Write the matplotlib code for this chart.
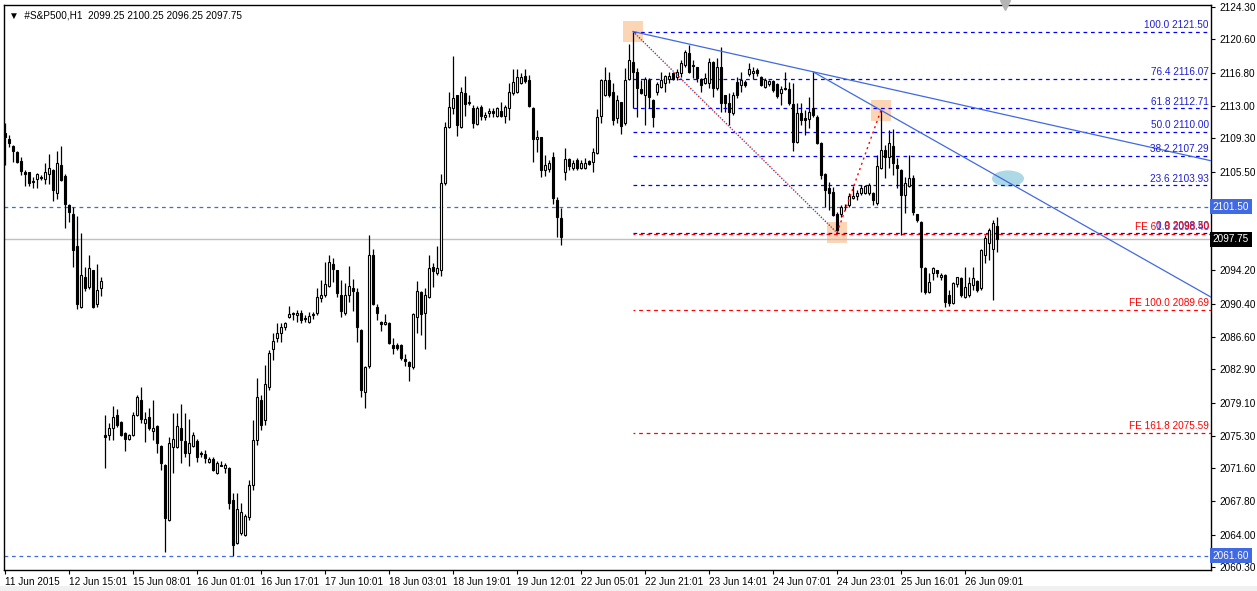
import numpy as np
import matplotlib
matplotlib.use("Agg")
import matplotlib.pyplot as plt
from matplotlib.patches import Rectangle, Ellipse
from matplotlib.transforms import blended_transform_factory

plt.rcParams["font.family"] = ["Liberation Sans", "DejaVu Sans"]

# --- hourly OHLC of #S&P500 (H1) ---
opens = [2109.9, 2109.2, 2108.4, 2107.7, 2106.7, 2105.4, 2105.4, 2104.4, 2104.6, 2104.8,
         2104.6, 2105.2, 2105.7, 2103.0, 2106.2, 2105.0, 2101.7, 2100.6, 2097.0, 2090.0,
         2093.4, 2092.3, 2094.2, 2090.4, 2092.2, 2075.4, 2075.4, 2076.2, 2077.7, 2076.9,
         2075.6, 2074.9, 2075.4, 2077.7, 2079.4, 2076.8, 2077.4, 2075.8, 2076.4, 2074.1,
         2072.0, 2065.7, 2074.0, 2074.0, 2076.2, 2074.7, 2073.3, 2074.1, 2074.7, 2073.3,
         2073.2, 2072.3, 2072.6, 2071.0, 2072.0, 2071.6, 2071.6, 2068.0, 2063.0, 2064.2,
         2064.0, 2066.0, 2069.7, 2074.8, 2079.4, 2077.1, 2080.9, 2085.2, 2086.5, 2087.0,
         2087.7, 2088.9, 2089.2, 2089.1, 2089.3, 2088.8, 2088.3, 2089.1, 2089.3, 2091.0,
         2091.4, 2092.4, 2094.9, 2094.2, 2091.4, 2089.3, 2091.4, 2092.2, 2091.7, 2087.4,
         2080.3, 2083.3, 2096.0, 2090.0, 2088.3, 2088.1, 2088.2, 2085.7, 2085.7, 2085.7,
         2084.1, 2083.7, 2083.2, 2088.9, 2091.7, 2089.3, 2091.2, 2094.6, 2093.9, 2094.2,
         2104.2, 2110.6, 2112.8, 2114.2, 2110.6, 2114.5, 2113.4, 2112.8, 2110.9, 2112.9,
         2111.7, 2112.2, 2112.4, 2111.8, 2112.4, 2111.8, 2112.8, 2114.5, 2114.6, 2115.6,
         2116.4, 2116.0, 2112.8, 2109.2, 2109.4, 2105.7, 2105.8, 2107.2, 2102.2, 2100.2,
         2105.4, 2106.9, 2105.9, 2106.8, 2105.9, 2105.9, 2106.7, 2106.6, 2107.6, 2111.8,
         2114.2, 2116.0, 2114.6, 2111.6, 2113.4, 2111.0, 2116.1, 2118.0, 2116.9, 2114.9,
         2114.2, 2116.0, 2113.7, 2114.6, 2115.2, 2115.6, 2116.1, 2116.8, 2116.3, 2116.8,
         2117.7, 2119.0, 2117.7, 2117.4, 2116.1, 2115.6, 2115.6, 2118.0, 2115.0, 2117.4,
         2114.2, 2113.3, 2112.2, 2115.7, 2115.4, 2115.7, 2116.6, 2116.8, 2117.1, 2116.3,
         2115.2, 2115.5, 2115.8, 2115.5, 2114.5, 2115.0, 2114.9, 2113.2, 2108.9, 2112.2,
         2111.6, 2111.5, 2112.8, 2111.7, 2108.8, 2105.2, 2103.6, 2103.2, 2100.6, 2100.6,
         2101.4, 2101.7, 2102.5, 2102.7, 2103.0, 2103.0, 2103.0, 2103.0, 2101.9, 2105.9,
         2108.0, 2107.2, 2108.4, 2106.2, 2105.7, 2102.8, 2103.8, 2104.8, 2100.6, 2099.7,
         2094.5, 2091.7, 2093.9, 2094.2, 2093.4, 2093.7, 2091.4, 2090.5, 2092.6, 2093.3,
         2091.2, 2091.4, 2092.5, 2093.0, 2092.2, 2096.0, 2097.3, 2096.6, 2099.25]
highs = [2111.0, 2109.7, 2108.5, 2107.8, 2107.2, 2105.7, 2105.5, 2104.9, 2105.3, 2105.1,
         2106.5, 2107.5, 2105.8, 2107.8, 2108.4, 2105.2, 2101.8, 2101.4, 2100.4, 2098.5,
         2094.6, 2096.0, 2094.3, 2094.9, 2093.4, 2077.7, 2076.8, 2078.7, 2078.4, 2077.0,
         2075.7, 2075.5, 2078.0, 2080.0, 2080.9, 2078.0, 2078.5, 2079.4, 2076.5, 2074.2,
         2072.1, 2075.2, 2077.9, 2077.9, 2078.9, 2077.9, 2077.2, 2075.7, 2074.9, 2073.6,
         2073.7, 2072.9, 2072.9, 2072.4, 2072.4, 2072.2, 2071.7, 2068.8, 2068.8, 2067.6,
         2066.4, 2070.2, 2077.1, 2081.9, 2080.0, 2083.4, 2085.1, 2087.0, 2088.2, 2088.2,
         2088.3, 2090.1, 2089.4, 2089.7, 2089.7, 2089.1, 2089.5, 2089.5, 2092.2, 2093.1,
         2095.2, 2096.0, 2095.6, 2094.3, 2093.1, 2092.8, 2094.7, 2093.2, 2092.2, 2087.5,
         2083.3, 2098.2, 2096.6, 2090.4, 2088.4, 2089.2, 2088.3, 2086.5, 2085.9, 2085.8,
         2084.6, 2083.8, 2089.3, 2093.0, 2091.8, 2092.2, 2096.0, 2095.0, 2097.0, 2105.2,
         2111.2, 2114.6, 2118.7, 2114.3, 2115.2, 2116.4, 2114.2, 2113.1, 2113.0, 2113.1,
         2112.3, 2112.8, 2112.8, 2112.9, 2113.4, 2113.1, 2115.6, 2117.2, 2117.2, 2116.8,
         2117.2, 2116.5, 2112.9, 2110.2, 2109.5, 2107.4, 2106.8, 2107.7, 2102.6, 2101.3,
         2108.2, 2107.0, 2106.8, 2107.0, 2106.8, 2107.0, 2106.8, 2108.2, 2112.6, 2116.1,
         2117.4, 2116.9, 2115.6, 2114.2, 2113.5, 2117.3, 2120.1, 2121.5, 2117.3, 2116.0,
         2116.3, 2116.2, 2113.8, 2115.7, 2116.9, 2116.5, 2116.9, 2116.9, 2117.2, 2118.2,
         2119.4, 2120.0, 2118.2, 2117.5, 2116.2, 2116.8, 2118.5, 2118.1, 2118.5, 2119.7,
         2114.3, 2114.5, 2114.6, 2116.3, 2116.9, 2116.0, 2117.9, 2117.4, 2117.3, 2116.4,
         2116.2, 2116.0, 2116.0, 2115.6, 2115.3, 2116.9, 2115.7, 2115.6, 2113.3, 2113.3,
         2112.5, 2114.0, 2116.9, 2112.0, 2108.9, 2105.3, 2104.3, 2103.7, 2100.9, 2101.7,
         2101.8, 2103.0, 2103.8, 2103.4, 2104.0, 2104.0, 2104.2, 2103.2, 2107.4, 2112.5,
         2108.5, 2110.2, 2110.4, 2107.0, 2105.8, 2104.9, 2107.4, 2105.1, 2100.7, 2099.8,
         2094.6, 2093.9, 2094.6, 2094.3, 2093.9, 2093.8, 2092.0, 2092.9, 2093.5, 2093.4,
         2094.6, 2093.4, 2094.6, 2093.1, 2096.6, 2098.2, 2099.0, 2100.0, 2100.25]
lows = [2106.2, 2108.3, 2106.6, 2106.5, 2105.1, 2103.8, 2103.8, 2103.6, 2103.6, 2104.5,
        2104.1, 2104.1, 2102.1, 2102.4, 2104.4, 2099.0, 2099.7, 2094.6, 2089.8, 2089.9,
        2091.8, 2092.1, 2089.9, 2090.0, 2091.3, 2071.6, 2074.8, 2074.8, 2076.3, 2075.3,
        2073.6, 2074.8, 2075.3, 2077.6, 2076.8, 2074.6, 2076.0, 2074.8, 2073.3, 2071.4,
        2062.0, 2065.6, 2071.0, 2073.9, 2072.2, 2072.9, 2071.8, 2074.0, 2072.3, 2072.9,
        2072.2, 2072.2, 2071.3, 2070.9, 2071.8, 2071.0, 2066.9, 2061.6, 2062.9, 2064.0,
        2063.9, 2065.7, 2069.1, 2074.2, 2076.0, 2076.5, 2080.5, 2084.0, 2086.0, 2086.0,
        2087.4, 2088.8, 2088.5, 2088.3, 2088.2, 2088.3, 2088.2, 2088.6, 2089.1, 2090.6,
        2091.2, 2092.3, 2092.9, 2091.2, 2088.9, 2089.1, 2090.6, 2089.6, 2086.0, 2079.7,
        2078.5, 2083.0, 2090.3, 2088.5, 2087.3, 2088.0, 2085.8, 2084.6, 2085.1, 2084.0,
        2083.3, 2081.6, 2082.9, 2087.0, 2086.8, 2085.2, 2091.1, 2092.3, 2093.7, 2093.6,
        2104.0, 2110.5, 2112.1, 2109.6, 2110.5, 2111.8, 2113.1, 2110.5, 2110.8, 2111.4,
        2111.4, 2111.7, 2111.7, 2111.7, 2111.7, 2111.0, 2111.4, 2114.2, 2114.5, 2115.5,
        2115.6, 2112.9, 2106.6, 2107.7, 2104.9, 2105.0, 2105.4, 2101.8, 2098.0, 2097.1,
        2104.5, 2105.7, 2105.7, 2105.7, 2105.8, 2105.8, 2106.2, 2105.5, 2107.5, 2111.0,
        2114.1, 2114.0, 2110.8, 2111.0, 2109.8, 2110.8, 2116.0, 2112.8, 2111.7, 2114.4,
        2110.8, 2112.8, 2110.6, 2114.2, 2115.0, 2114.6, 2115.6, 2116.0, 2116.0, 2116.3,
        2117.4, 2116.8, 2116.2, 2115.7, 2114.6, 2115.5, 2115.0, 2114.0, 2114.8, 2112.3,
        2112.3, 2110.8, 2112.0, 2113.9, 2114.6, 2115.2, 2116.4, 2116.1, 2116.4, 2115.3,
        2115.0, 2115.3, 2114.6, 2113.9, 2113.1, 2114.8, 2113.1, 2107.8, 2108.8, 2110.8,
        2109.7, 2110.5, 2111.7, 2108.7, 2104.6, 2101.4, 2101.1, 2100.4, 2098.5, 2100.3,
        2101.1, 2101.4, 2102.4, 2102.2, 2102.8, 2102.9, 2102.8, 2101.7, 2101.7, 2105.8,
        2104.8, 2105.9, 2105.1, 2103.6, 2098.2, 2100.8, 2103.7, 2100.5, 2099.7, 2091.7,
        2091.5, 2091.6, 2093.1, 2093.4, 2093.1, 2090.0, 2090.1, 2090.4, 2092.3, 2091.2,
        2091.1, 2091.2, 2092.0, 2091.7, 2092.0, 2095.0, 2095.4, 2090.8, 2096.25]
closes = [2109.4, 2108.8, 2107.8, 2106.6, 2105.6, 2105.2, 2104.2, 2104.3, 2105.2, 2104.9,
          2105.4, 2105.9, 2103.4, 2106.5, 2104.5, 2101.8, 2100.9, 2096.5, 2090.4, 2093.7,
          2092.2, 2094.5, 2090.0, 2092.0, 2093.0, 2075.2, 2076.2, 2077.4, 2076.5, 2075.4,
          2074.9, 2075.4, 2077.7, 2079.7, 2077.2, 2077.2, 2076.2, 2076.2, 2074.5, 2072.2,
          2065.9, 2074.5, 2074.9, 2076.4, 2074.8, 2073.3, 2074.5, 2075.4, 2072.9, 2073.2,
          2072.8, 2072.6, 2071.4, 2072.2, 2071.9, 2072.0, 2067.6, 2062.8, 2066.9, 2066.6,
          2066.1, 2069.7, 2074.8, 2079.7, 2076.5, 2081.2, 2084.8, 2086.1, 2087.0, 2087.7,
          2088.2, 2089.2, 2089.3, 2089.3, 2088.5, 2088.7, 2089.0, 2089.2, 2091.2, 2091.4,
          2092.6, 2095.2, 2094.4, 2091.6, 2089.6, 2091.4, 2092.4, 2091.8, 2087.7, 2080.5,
          2083.2, 2096.0, 2090.4, 2089.3, 2088.1, 2088.3, 2085.9, 2085.3, 2085.3, 2084.2,
          2083.8, 2083.3, 2089.2, 2091.8, 2089.2, 2091.4, 2094.5, 2094.1, 2094.5, 2104.2,
          2110.6, 2112.9, 2113.9, 2110.8, 2114.6, 2113.2, 2113.3, 2111.0, 2112.8, 2111.8,
          2112.0, 2112.4, 2112.2, 2112.8, 2111.8, 2112.9, 2114.6, 2115.7, 2116.3, 2116.3,
          2115.8, 2113.0, 2109.2, 2109.4, 2105.7, 2106.2, 2106.5, 2102.5, 2100.3, 2098.0,
          2106.9, 2106.1, 2106.5, 2105.9, 2106.5, 2106.5, 2106.4, 2107.7, 2111.7, 2116.0,
          2116.0, 2114.2, 2111.4, 2113.7, 2110.7, 2116.0, 2118.2, 2116.9, 2115.0, 2114.5,
          2116.1, 2114.0, 2111.7, 2115.5, 2116.0, 2116.4, 2116.4, 2116.1, 2116.9, 2117.9,
          2119.2, 2116.9, 2117.6, 2116.2, 2115.4, 2116.2, 2118.0, 2115.0, 2117.4, 2113.3,
          2113.3, 2112.3, 2114.2, 2114.2, 2116.0, 2115.4, 2117.2, 2117.0, 2116.8, 2115.4,
          2116.0, 2115.8, 2114.8, 2114.1, 2114.9, 2114.9, 2113.3, 2108.9, 2112.2, 2111.4,
          2111.4, 2112.3, 2112.0, 2108.8, 2105.1, 2103.4, 2103.0, 2100.5, 2098.8, 2101.4,
          2101.5, 2102.7, 2102.7, 2103.0, 2103.6, 2103.8, 2104.0, 2102.2, 2106.1, 2108.0,
          2107.2, 2108.8, 2106.5, 2105.9, 2102.8, 2104.2, 2104.8, 2100.9, 2100.0, 2094.6,
          2091.7, 2092.9, 2094.5, 2093.9, 2093.7, 2090.6, 2090.5, 2092.8, 2093.4, 2091.4,
          2092.3, 2092.8, 2093.3, 2092.0, 2096.5, 2097.9, 2098.8, 2099.6, 2097.75]

# date labels every 16 bars
date_labels = ["11 Jun 2015", "12 Jun 15:01", "15 Jun 08:01", "16 Jun 01:01", "16 Jun 17:01",
               "17 Jun 10:01", "18 Jun 03:01", "18 Jun 19:01", "19 Jun 12:01", "22 Jun 05:01",
               "22 Jun 21:01", "23 Jun 14:01", "24 Jun 07:01", "24 Jun 23:01", "25 Jun 16:01",
               "26 Jun 09:01"]
price_ticks = [2124.30, 2120.60, 2116.80, 2113.00, 2109.30, 2105.50, 2094.20, 2090.40,
               2086.60, 2082.90, 2079.10, 2075.30, 2071.60, 2067.80, 2064.00, 2060.30]

# Fibonacci retracement / expansion (A = high, B = low, C = retrace high)
fib_pct = [100.0, 76.4, 61.8, 50.0, 38.2, 23.6, 0.0]
fib_price = [2121.50, 2116.07, 2112.71, 2110.00, 2107.29, 2103.93, 2098.50]
fe_pct = [61.8, 100.0, 161.8]
fe_price = [2098.40, 2089.69, 2075.59]
point_bar = [157, 208, 219]          # A, B, C
point_price = [2121.50, 2098.50, 2112.50]
trend1_bar, trend1_price = [157, 202], [2121.50, 2116.90]
trend2_bar, trend2_price = [202, 219], [2116.90, 2112.50]
hline_prices = [2101.50, 2061.60]
bid = 2097.75

# --- figure ---
W, H = 1257, 591
fig = plt.figure(figsize=(W / 100, H / 100), dpi=100)
ax = fig.add_axes([4 / W, 21 / H, (1211 - 4) / W, (570 - 5) / H])
x_right = (1211 - 5) / 4
ax.set_xlim(-0.25, x_right)
ax.set_ylim(2059.96, 2124.53)

bars = np.arange(len(opens))
o, h, l, c = map(np.array, (opens, highs, lows, closes))
up = c >= o

# wicks then bodies
ax.vlines(bars, l, h, color="black", lw=0.9, zorder=3)
body_lo = np.minimum(o, c)
body_h = np.maximum(np.abs(c - o), 0.06)
ax.bar(bars[up], body_h[up], bottom=body_lo[up], width=0.62,
       facecolor="white", edgecolor="black", lw=0.8, zorder=4)
ax.bar(bars[~up], body_h[~up], bottom=body_lo[~up], width=0.62,
       facecolor="black", edgecolor="black", lw=0.8, zorder=4)

# horizontal lines across the chart
for p in hline_prices:
    ax.axhline(p, color="#4169E1", lw=0.9, ls=(0, (3, 3)), zorder=1)
ax.axhline(bid, color="#C0C0C0", lw=1.0, zorder=1)

# fib levels
x0 = point_bar[0]
for pct, p in zip(fib_pct, fib_price):
    ax.plot([x0, x_right], [p, p], color="#0000FF", lw=0.9, ls=(0, (3, 3)), zorder=2)
    ax.text(x_right - 0.5, p + 0.2, f"{pct:.1f} {p:.2f}", color="#1E1ED2",
            fontsize=7.2, ha="right", va="bottom", zorder=6)
for pct, p in zip(fe_pct, fe_price):
    ax.plot([x0, x_right], [p, p], color="#FF0000", lw=0.9, ls=(1.5, (3, 3)), zorder=2)
    ax.text(x_right - 0.5, p + 0.2, f"FE {pct:.1f} {p:.2f}", color="#FF0000",
            fontsize=7.2, ha="right", va="bottom", zorder=6)

# orange point markers
for b, p in zip(point_bar, point_price):
    ax.add_patch(Rectangle((b - 2.5, p - 1.2), 5, 2.4, facecolor="#FCD5B4",
                           edgecolor="none", zorder=0.5))

# A-B and B-C dotted connectors
ax.plot(point_bar[:2], point_price[:2], color="#4169E1", lw=1, ls=(0, (1, 3)), zorder=5)
ax.plot(point_bar[:2], point_price[:2], color="#FF0000", lw=1, ls=(2, (1, 3)), zorder=5)
ax.plot(point_bar[1:], point_price[1:], color="#FF0000", lw=1, ls=(0, (1.5, 2.5)), zorder=5)

# trend lines extended to right edge
for tb, tp in ((trend1_bar, trend1_price), (trend2_bar, trend2_price)):
    slope = (tp[1] - tp[0]) / (tb[1] - tb[0])
    ax.plot([tb[0], x_right], [tp[0], tp[0] + slope * (x_right - tb[0])],
            color="#4169E1", lw=0.9, zorder=5)

ax.add_patch(Ellipse((250.75, 2104.7), 8, 1.85, facecolor="#ADD8E6",
                     edgecolor="none", zorder=0.6))

# axes styling
ax.yaxis.tick_right()
ax.set_yticks(price_ticks)
ax.set_yticklabels([f"{v:.2f}" for v in price_ticks])
ax.set_xticks(np.arange(len(date_labels)) * 16)
ax.set_xticklabels(date_labels, ha="left")
ax.tick_params(axis="both", labelsize=7.2, length=3, width=0.8, colors="black", pad=2)
ax.tick_params(axis="y", pad=3)
for s in ax.spines.values():
    s.set_color("black")
    s.set_linewidth(1)

# price label boxes on the axis
tr = blended_transform_factory(ax.transAxes, ax.transData)
for p in hline_prices:
    ax.text(1.0015, p, f"{p:.2f}", transform=tr, fontsize=7.2, color="white", va="center",
            ha="left", bbox=dict(facecolor="#4169E1", edgecolor="none", pad=1.8), clip_on=False)
ax.text(1.0015, bid, f"{bid:.2f}", transform=tr, fontsize=7.2, color="white", va="center",
        ha="left", bbox=dict(facecolor="black", edgecolor="none", pad=1.8), clip_on=False)

# header and chart-shift marker
ax.text(0.0045, 0.99, "\u25bc  #S&P500,H1  2099.25 2100.25 2096.25 2097.75", transform=ax.transAxes,
        fontsize=7.2, va="top", ha="left")
ax.plot([250], [2124.55], marker="v", ms=7, color="#B4B4B4", clip_on=False, zorder=7)

fig.patches.append(Rectangle((0, 0), 1, 5 / H, transform=fig.transFigure,
                             facecolor="#F0F0F0", edgecolor="none"))

fig.savefig("out.png", dpi=100)
